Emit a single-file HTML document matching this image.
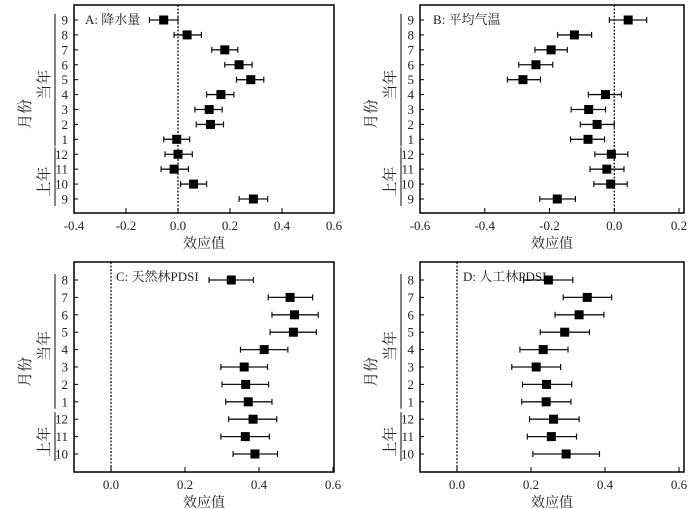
<!DOCTYPE html>
<html><head><meta charset="utf-8">
<style>
html,body{margin:0;padding:0;background:#fff;}
svg{display:block;font-family:"Liberation Serif","Noto Serif CJK SC","Noto Sans CJK SC",serif;}
</style></head>
<body>
<svg id="fig" width="700" height="509" viewBox="0 0 700 509"></svg>
<script>
// Panel A: precipitation
const aLabels = ["9","8","7","6","5","4","3","2","1","12","11","10","9"];
const aMean = [-0.055,0.035,0.18,0.235,0.28,0.165,0.12,0.125,-0.005,0.0,-0.015,0.06,0.29];
const aLow  = [-0.11,-0.015,0.13,0.18,0.225,0.11,0.065,0.07,-0.055,-0.05,-0.065,0.01,0.235];
const aHigh = [0.0,0.09,0.23,0.285,0.33,0.215,0.17,0.175,0.045,0.055,0.04,0.11,0.345];
const aTicks = [-0.4,-0.2,0.0,0.2,0.4,0.6];
// Panel B: mean temperature
const bLabels = ["9","8","7","6","5","4","3","2","1","12","11","10","9"];
const bMean = [0.043,-0.123,-0.195,-0.242,-0.282,-0.027,-0.079,-0.053,-0.081,-0.009,-0.023,-0.011,-0.176];
const bLow  = [-0.015,-0.175,-0.245,-0.295,-0.33,-0.08,-0.133,-0.105,-0.135,-0.06,-0.075,-0.063,-0.23];
const bHigh = [0.1,-0.07,-0.145,-0.19,-0.228,0.022,-0.027,0.0,-0.03,0.042,0.03,0.04,-0.12];
const bTicks = [-0.6,-0.4,-0.2,0.0,0.2];
// Panel C: natural forest PDSI
const cLabels = ["8","7","6","5","4","3","2","1","12","11","10"];
const cMean = [0.325,0.484,0.496,0.493,0.414,0.36,0.364,0.371,0.384,0.363,0.389];
const cLow  = [0.265,0.425,0.435,0.43,0.35,0.297,0.3,0.31,0.318,0.297,0.33];
const cHigh = [0.385,0.545,0.56,0.555,0.478,0.423,0.426,0.435,0.448,0.428,0.45];
const cTicks = [0.0,0.2,0.4,0.6];
// Panel D: plantation PDSI
const dLabels = ["8","7","6","5","4","3","2","1","12","11","10"];
const dMean = [0.247,0.352,0.33,0.291,0.233,0.214,0.242,0.241,0.261,0.255,0.295];
const dLow  = [0.18,0.287,0.265,0.225,0.17,0.148,0.177,0.175,0.196,0.19,0.205];
const dHigh = [0.313,0.418,0.397,0.358,0.3,0.28,0.31,0.308,0.33,0.323,0.385];
const dTicks = [0.0,0.2,0.4,0.6];

const NS="http://www.w3.org/2000/svg";
const svg=document.getElementById('fig');
function mk(tag,attrs,parent){const e=document.createElementNS(NS,tag);for(const k in attrs)e.setAttribute(k,attrs[k]);(parent||svg).appendChild(e);return e;}

function panel(p){
  const g=mk('g',{});
  
  
  const xs=v=>p.x0+(v-p.xmin)/(p.xmax-p.xmin)*(p.x1-p.x0);
  const ys=i=>p.yFirst+i*(p.yLast-p.yFirst)/(p.labels.length-1);
  // frame
  const fr=mk('rect',{x:p.x0,y:p.y0,width:p.x1-p.x0,height:p.y1-p.y0,fill:'none',stroke:'#000','stroke-width':1.5},g);
  
  
  // zero line
  const zl=mk('line',{x1:xs(0),x2:xs(0),y1:p.y0,y2:p.y1,stroke:'#000','stroke-width':1.2,'stroke-dasharray':'2,1.5'},g);
  
  
  // x ticks
  p.ticks.forEach(t=>{
    const x=xs(t);
    const tl=mk('line',{x1:x,x2:x,y1:p.y1,y2:p.y1-5,stroke:'#000','stroke-width':1},g);
    
    
    const tx=mk('text',{x:x,y:p.y1+17,'text-anchor':'middle','font-size':13,fill:'#222'},g);
    tx.textContent=t.toFixed(1);
    
    
  });
  const xt=mk('text',{x:(p.x0+p.x1)/2,y:p.y1+35,'text-anchor':'middle','font-size':14,fill:'#222'},g);
  xt.textContent='效应值';
  
  
  // y labels + ticks
  p.labels.forEach((l,i)=>{
    const y=ys(i);
    const tl=mk('line',{x1:p.x0,x2:p.x0+4,y1:y,y2:y,stroke:'#000','stroke-width':1},g);
    
    
    const tx=mk('text',{x:p.x0-6,y:y+4.5,'text-anchor':'end','font-size':13,fill:'#222'},g);
    tx.textContent=l;
    
    
  });
  // group brackets
  const gx=p.x0-19;
  const curEnd=ys(p.splitIdx-1), prevStart=ys(p.splitIdx);
  const l1=mk('line',{x1:gx,x2:gx,y1:ys(0)-6,y2:curEnd+7,stroke:'#333','stroke-width':1.2},g);
  
  
  const l2=mk('line',{x1:gx,x2:gx,y1:prevStart-7,y2:ys(p.labels.length-1)+7,stroke:'#333','stroke-width':1.2},g);
  
  
  const lab=(txt,x,y,nm,fs)=>{const t=mk('text',{x:x,y:y,'text-anchor':'middle','font-size':fs,fill:'#222',transform:`rotate(-90 ${x} ${y})`,'font-family':'"Noto Serif CJK SC","Noto Sans CJK SC",serif'},g);t.textContent=txt;};
  lab('当年',gx-6,(ys(0)+curEnd)/2+5,'current-year-label',15);
  lab('上年',gx-6,(prevStart+ys(p.labels.length-1))/2+5,'previous-year-label',15);
  lab('月份',p.x0-44,(p.y0+p.y1)/2+5,'y-axis-title',15);
  // title
  const tt=mk('text',{x:p.titleX,y:p.y0+19,'font-size':13,fill:'#222','font-family':'"Liberation Serif","Noto Serif CJK SC",serif'},g);
  tt.textContent=p.title;
  
  
  // series
  p.labels.forEach((l,i)=>{
    const y=ys(i);
    const eg=mk('g',{},g);
    
    
    mk('line',{x1:xs(p.low[i]),x2:xs(p.high[i]),y1:y,y2:y,stroke:'#111','stroke-width':1.3},eg);
    mk('line',{x1:xs(p.low[i]),x2:xs(p.low[i]),y1:y-3,y2:y+3,stroke:'#111','stroke-width':1.2},eg);
    mk('line',{x1:xs(p.high[i]),x2:xs(p.high[i]),y1:y-3,y2:y+3,stroke:'#111','stroke-width':1.2},eg);
    mk('rect',{x:xs(p.mean[i])-4.5,y:y-4.5,width:9,height:9,fill:'#000'},eg);
  });
}

panel({name:'panel-a-precipitation',title:'A: 降水量',titleX:85,labels:aLabels,mean:aMean,low:aLow,high:aHigh,ticks:aTicks,
  x0:74,x1:334,y0:5,y1:213,xmin:-0.4,xmax:0.6,yFirst:20,yLast:199,splitIdx:9});
panel({name:'panel-b-temperature',title:'B: 平均气温',titleX:433,labels:bLabels,mean:bMean,low:bLow,high:bHigh,ticks:bTicks,
  x0:420,x1:684,y0:5,y1:213,xmin:-0.6,xmax:0.2154,yFirst:20,yLast:199,splitIdx:9});
panel({name:'panel-c-natural-forest-pdsi',title:'C: 天然林PDSI',titleX:116,labels:cLabels,mean:cMean,low:cLow,high:cHigh,ticks:cTicks,
  x0:74,x1:334,y0:262,y1:472,xmin:-0.1,xmax:0.6027,yFirst:280,yLast:454,splitIdx:8});
panel({name:'panel-d-plantation-pdsi',title:'D: 人工林PDSI',titleX:463,labels:dLabels,mean:dMean,low:dLow,high:dHigh,ticks:dTicks,
  x0:420,x1:684,y0:262,y1:472,xmin:-0.1,xmax:0.6135,yFirst:280,yLast:454,splitIdx:8});
</script>
</body></html>
